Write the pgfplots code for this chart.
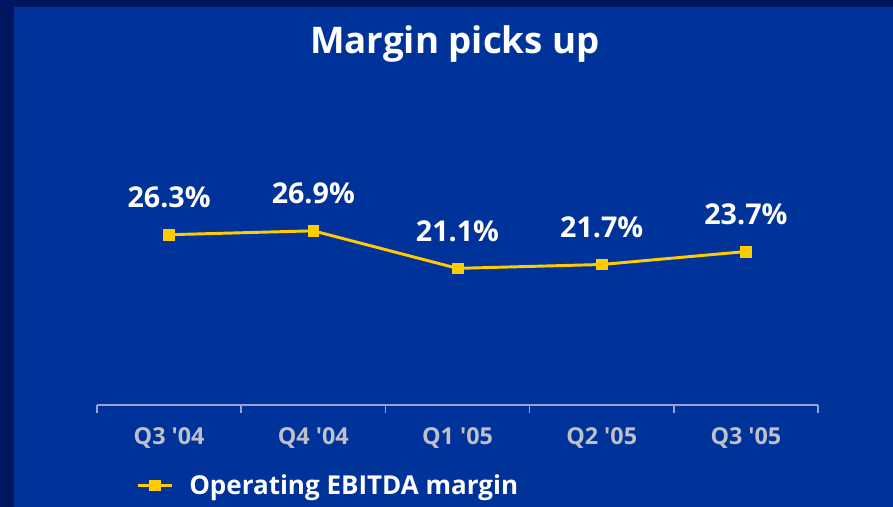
\documentclass[border=0pt]{standalone}
\usepackage{pgfplots}
\pgfplotsset{compat=1.18}
\usepackage{fontspec}
\setmainfont{Open Sans}
\newfontfamily\plainfont{Open Sans}[Ligatures=TeXOff]
\definecolor{navy}{RGB}{0,21,96}
\definecolor{bgblue}{RGB}{0,51,153}
\definecolor{lineyellow}{RGB}{255,204,0}
\definecolor{tickgray}{RGB}{192,192,200}
\definecolor{axisgray}{RGB}{150,165,205}
\begin{document}
\begin{tikzpicture}[x=0.75pt,y=0.75pt]
\fill[navy] (0,0) rectangle (893,507);
\fill[bgblue] (14,0) rectangle (893,500);
\node[text=white,font=\fontsize{27.5}{31}\selectfont\bfseries] at (455,463) {Margin picks up};
\begin{axis}[
  at={(72.75pt,76.5pt)}, anchor=south west,
  scale only axis, width=540.75pt, height=194.25pt,
  xmin=-0.5, xmax=4.5, ymin=0, ymax=40,
  axis y line=none, axis x line*=bottom,
  x axis line style={axisgray, line width=1.1pt},
  xtick={0,1,2,3,4},
  xticklabels={Q3 '04, Q4 '04, Q1 '05, Q2 '05, Q3 '05},
  minor xtick={-0.5,0.5,1.5,2.5,3.5,4.5},
  major tick length=0pt, minor tick length=6pt, tick align=outside,
  every minor tick/.style={axisgray, line width=1.1pt},
  xticklabel style={text=tickgray, font=\plainfont\fontsize{17.5}{21}\selectfont\bfseries, anchor=center, yshift=-24.5pt},
  clip=false,
  legend style={at={(rel axis cs:0.054,-0.31)}, anchor=west, draw=none, fill=none, text=white, font=\fontsize{19.5}{23}\selectfont\bfseries, inner sep=0pt,
    /tikz/every odd column/.append style={column sep=10pt}},
  legend image code/.code={\draw[#1, mark repeat=2, mark phase=2] plot coordinates {(0cm,0cm) (0.45cm,0cm) (0.9cm,0cm)};},
  nodes near coords={\pgfmathprintnumber[fixed, fixed zerofill, precision=1, assume math mode=true]{\pgfplotspointmeta}\%},
  point meta=y,
  every node near coord/.append style={text=white, font=\fontsize{21.5}{25}\selectfont\bfseries, anchor=center, yshift=28pt},
]
\addplot[lineyellow, line width=2.2pt, mark=square*, mark size=4pt, mark options={fill=lineyellow, draw=lineyellow, line width=0.5pt}]
  coordinates {(0,26.3) (1,26.9) (2,21.1) (3,21.7) (4,23.7)};
\addlegendentry{Operating EBITDA margin}
\end{axis}
\end{tikzpicture}
\end{document}
